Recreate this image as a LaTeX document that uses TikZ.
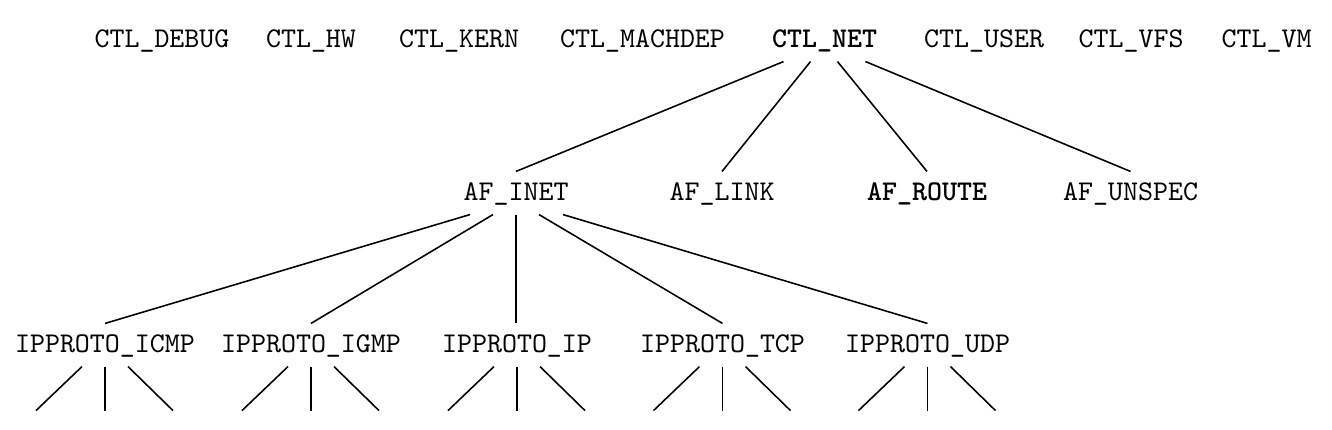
\documentclass[tikz,border=0pt]{standalone}
\usetikzlibrary{calc}
\tikzset{
  key/.style={font=\ttfamily, anchor=base, inner xsep=0pt, inner ysep=0pt,
    text height=9.8pt, text depth=4.9pt},
  keyb/.style={key, font=\ttfamily\bfseries},
  link/.style={line width=0.55pt}
}
\begin{document}
\begin{tikzpicture}[x=0.35pt,y=-0.35pt]
\useasboundingbox (0,0) rectangle (1332,430);
% top level
\node[key] (debug) at (162,47) {CTL\_DEBUG};
\node[key] (hw) at (311,47) {CTL\_HW};
\node[key] (kern) at (459,47) {CTL\_KERN};
\node[key] (machdep) at (642.5,47) {CTL\_MACHDEP};
\node[keyb] (net) at (824.5,47) {CTL\_NET};
\node[key] (user) at (984,47) {CTL\_USER};
\node[key] (vfs) at (1131,47) {CTL\_VFS};
\node[key] (vm) at (1266.5,47) {CTL\_VM};
% address families
\node[key] (inet) at (516,200) {AF\_INET};
\node[key] (afl) at (722,200) {AF\_LINK};
\node[keyb] (route) at (927,200) {AF\_ROUTE};
\node[key] (unspec) at (1130.5,200) {AF\_UNSPEC};
% protocols
\node[key] (icmp) at (105,352) {IPPROTO\_ICMP};
\node[key] (igmp) at (311,352) {IPPROTO\_IGMP};
\node[key] (ip) at (517,352) {IPPROTO\_IP};
\node[key] (tcp) at (722.5,352) {IPPROTO\_TCP};
\node[key] (udp) at (927.5,352) {IPPROTO\_UDP};

\draw[link] ($(net.south)+(-41,0)$) -- (inet.north);
\draw[link] ($(net.south)+(-14,0)$) -- (afl.north);
\draw[link] ($(net.south)+(13,0)$) -- (route.north);
\draw[link] ($(net.south)+(41,0)$) -- (unspec.north);

\draw[link] ($(inet.south)+(-46,0)$) -- (icmp.north);
\draw[link] ($(inet.south)+(-23,0)$) -- (igmp.north);
\draw[link] (inet.south) -- (inet.south |- ip.north);
\draw[link] ($(inet.south)+(23,0)$) -- (tcp.north);
\draw[link] ($(inet.south)+(47,0)$) -- (udp.north);

% stubs below each protocol
\foreach \n in {icmp,igmp,ip,tcp,udp}{
  \draw[link] ($(\n.south)+(-23,0)$) -- ++(-46,44);
  \draw[link] (\n.south) -- ++(0,44);
  \draw[link] ($(\n.south)+(23,0)$) -- ++(45,44);
}
\end{tikzpicture}
\end{document}
